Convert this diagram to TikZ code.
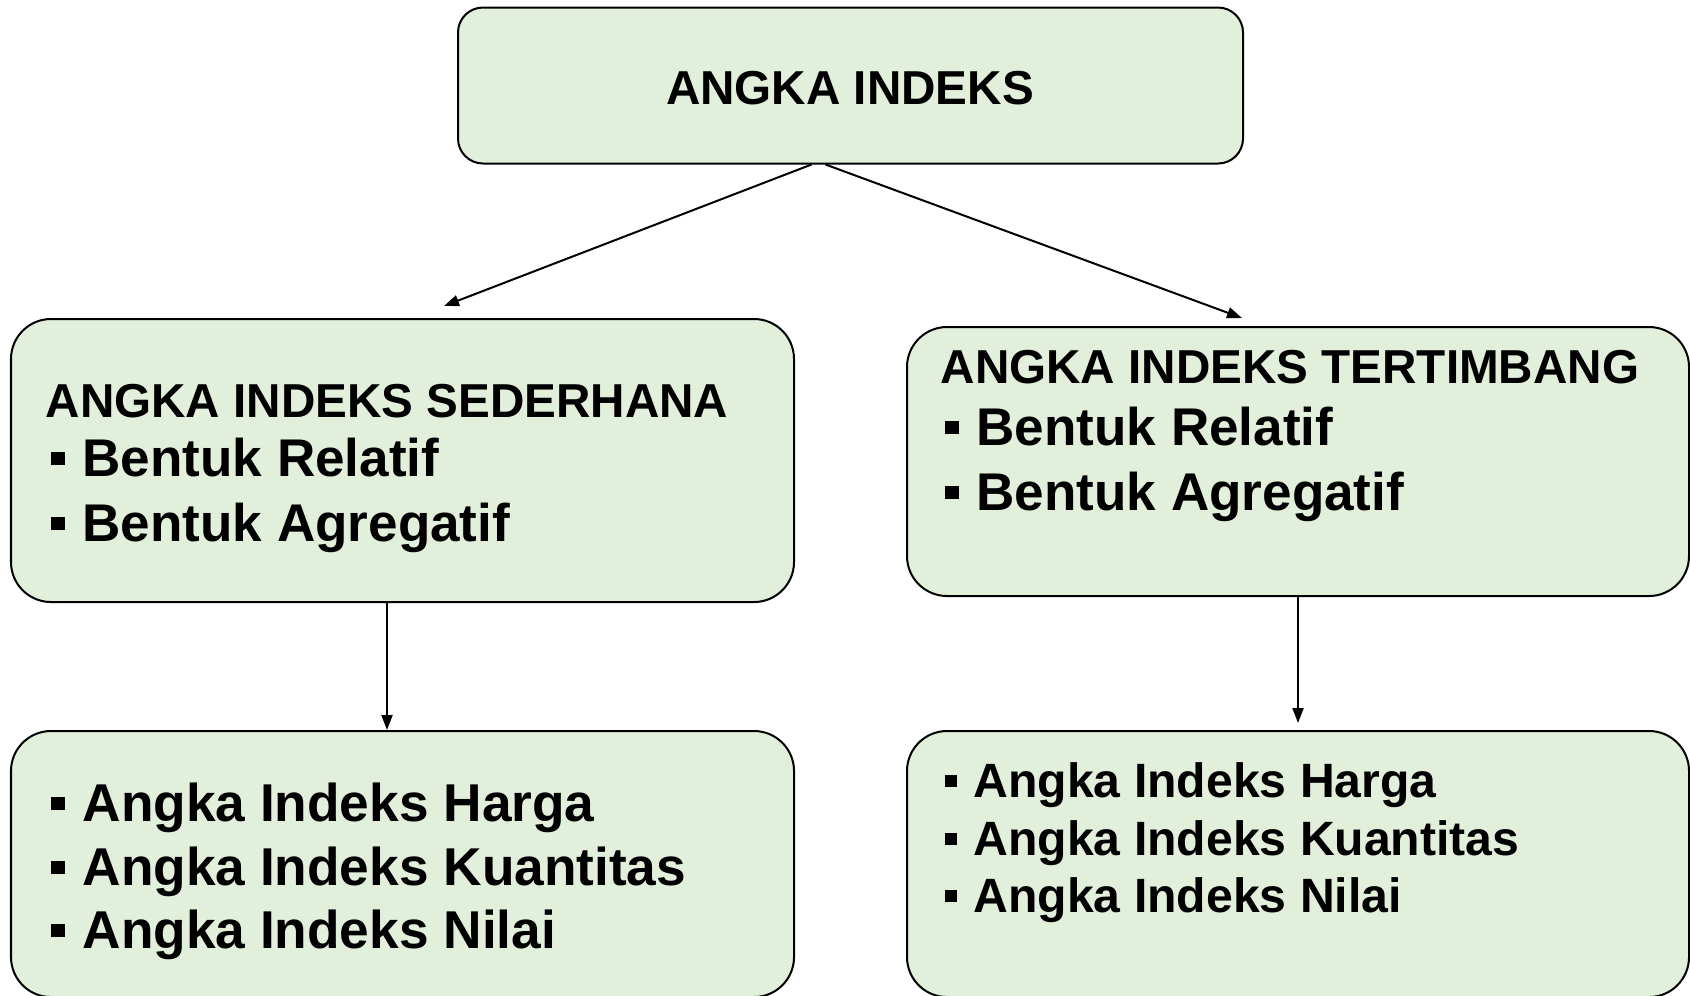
\documentclass[tikz,border=0pt]{standalone}
\usepackage{fontspec}
\setmainfont{Liberation Sans}
\usetikzlibrary{arrows.meta}
\definecolor{palegreen}{RGB}{226, 239, 218}
\newcommand{\sqbullet}{\rule[0.2em]{0.26em}{0.26em}\hspace{0.34em}}

\begin{document}
\begin{tikzpicture}[
    box/.style   = {draw=black, fill=palegreen, line width=0.57pt, rounded corners=0.40cm, inner sep=0pt},
    line/.style  = {anchor=base west, inner sep=0pt},
    link/.style  = {line width=0.57pt, -{Triangle[length=0.15cm, width=0.11cm]}},
    head/.style  = {font=\fontsize{13.55}{16}\selectfont\bfseries},
    item/.style  = {font=\fontsize{15.1}{18}\selectfont\bfseries},
    big/.style   = {font=\fontsize{15.15}{18}\selectfont\bfseries},
    small/.style = {font=\fontsize{13.7}{16}\selectfont\bfseries}]
        \useasboundingbox (0.00, 0.00) rectangle (16.90,-9.95);
        % boxes
        \node[box, rounded corners=0.25cm, minimum width=7.85cm, minimum height=1.56cm] (top)          at ( 8.505,-0.855) {};
        \node[box, minimum width=7.83cm, minimum height=2.83cm]                          (simple)       at ( 4.025,-4.605) {};
        \node[box, minimum width=7.82cm, minimum height=2.69cm]                          (weighted)     at (12.980,-4.615) {};
        \node[box, minimum width=7.83cm, minimum height=2.66cm]                          (simplelist)   at ( 4.025,-8.640) {};
        \node[box, minimum width=7.82cm, minimum height=2.66cm]                          (weightedlist) at (12.980,-8.640) {};
        % texts
        \node[head, anchor=base, inner sep=0pt] (toptitle)      at ( 8.50,-1.045) {ANGKA INDEKS};
        \node[head, line] (simplehead)   at ( 0.45,-4.17) {ANGKA INDEKS SEDERHANA};
        \node[item, line] (simplerel)    at ( 0.50,-4.76) {\sqbullet Bentuk Relatif};
        \node[item, line] (simpleagr)    at ( 0.50,-5.41) {\sqbullet Bentuk Agregatif};
        \node[head, line] (weightedhead) at ( 9.40,-3.83) {ANGKA INDEKS TERTIMBANG};
        \node[item, line] (weightedrel)  at ( 9.44,-4.45) {\sqbullet Bentuk Relatif};
        \node[item, line] (weightedagr)  at ( 9.44,-5.10) {\sqbullet Bentuk Agregatif};
        \node[big, line]  (simpleharga)  at ( 0.50,-8.21) {\sqbullet Angka Indeks Harga};
        \node[big, line]  (simplekuan)   at ( 0.50,-8.85) {\sqbullet Angka Indeks Kuantitas};
        \node[big, line]  (simplenilai)  at ( 0.50,-9.48) {\sqbullet Angka Indeks Nilai};
        \node[small, line] (weightedharga) at ( 9.44,-7.97) {\sqbullet Angka Indeks Harga};
        \node[small, line] (weightedkuan)  at ( 9.44,-8.55) {\sqbullet Angka Indeks Kuantitas};
        \node[small, line] (weightednilai) at ( 9.44,-9.12) {\sqbullet Angka Indeks Nilai};
        % arrows
        \draw[link] ([xshift=-0.39cm]top.south)    -- ([xshift=0.415cm,yshift=0.12cm]simple.north);
        \draw[link] ([xshift=-0.25cm]top.south)    -- ([xshift=-0.56cm,yshift=0.08cm]weighted.north);
        \draw[link] ([xshift=-0.155cm]simple.south) -- ([xshift=-0.155cm]simplelist.north);
        \draw[link] (weighted.south)               -- ([yshift=0.07cm]weightedlist.north);
\end{tikzpicture}
\end{document}
